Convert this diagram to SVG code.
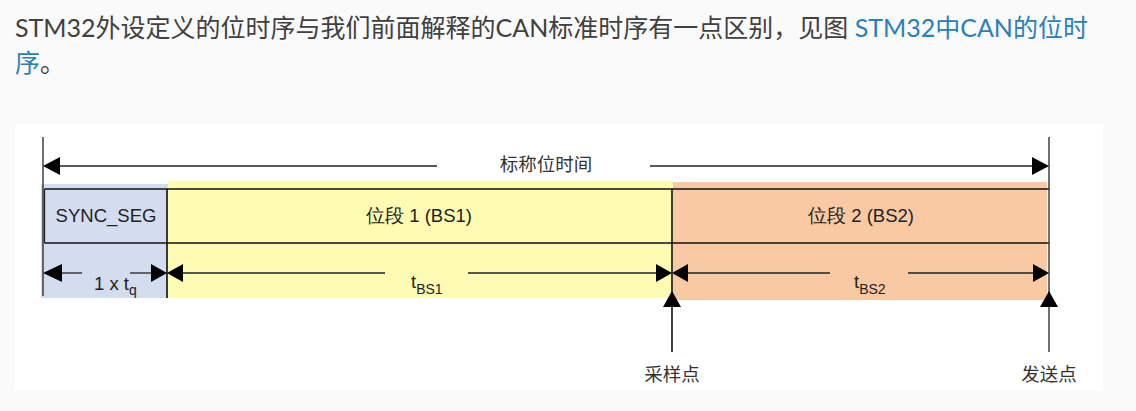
<svg xmlns="http://www.w3.org/2000/svg" width="1136" height="411" viewBox="0 0 1136 411">
<defs>
<style>
.para{font-family:Lato,"Noto Sans CJK SC",sans-serif;font-size:25px;fill:#404040}
.link{fill:#2980b9}
.lbl{font-family:"Liberation Sans",Arial,sans-serif;font-size:18.5px;fill:#222}
.cjk{font-family:"Liberation Serif","Noto Sans CJK SC",serif;font-size:18.5px;fill:#333}
.sub{font-size:14px}
.ln{stroke:#111;stroke-width:1.6;fill:none}
.thin{stroke:#222;stroke-width:1.3;fill:none}
.ah{fill:#000}
</style>
</defs>
<rect x="0" y="0" width="1136" height="411" fill="#fafafa"/>
<text class="para" x="15" y="37">STM32外设定义的位时序与我们前面解释的CAN标准时序有一点区别，见图 <tspan class="link">STM32中CAN的位时</tspan></text>
<text class="para" x="15" y="72"><tspan class="link">序</tspan>。</text>
<rect x="15" y="124" width="1088" height="267" fill="#ffffff"/>
<g id="sync_seg">
<rect x="41" y="184" width="127" height="114" fill="#d3ddef"/>
<text class="lbl" x="106" y="222" text-anchor="middle">SYNC_SEG</text>
</g>
<g id="bs1">
<rect x="168" y="181" width="505" height="117" fill="#fdfcb2"/>
<text class="lbl" x="419" y="222" text-anchor="middle">位段 1 (BS1)</text>
</g>
<g id="bs2">
<rect x="673" y="182" width="374" height="118" fill="#f8c9a3"/>
<text class="lbl" x="861" y="222" text-anchor="middle">位段 2 (BS2)</text>
</g>
<g id="frame">
<line class="ln" x1="44.5" y1="189" x2="1049" y2="189"/>
<line class="ln" x1="44.5" y1="243" x2="1049" y2="243"/>
<line class="thin" x1="44.5" y1="189" x2="44.5" y2="243"/>
<line class="ln" x1="167" y1="189" x2="167" y2="298"/>
<line class="ln" x1="672" y1="189" x2="672" y2="352"/>
<line class="thin" x1="43" y1="137" x2="43" y2="296"/>
<line class="thin" x1="1049" y1="137" x2="1049" y2="352"/>
</g>
<g id="connectors">
<line class="thin" x1="58" y1="166" x2="437" y2="166"/>
<line class="thin" x1="650" y1="166" x2="1034" y2="166"/>
<polygon class="ah" points="43,166 60,157 60,175"/>
<polygon class="ah" points="1049,166 1032,157 1032,175"/>
<line class="thin" x1="60" y1="273" x2="82" y2="273"/>
<line class="thin" x1="130" y1="273" x2="152" y2="273"/>
<polygon class="ah" points="43,273 62,264 62,282"/>
<polygon class="ah" points="167,273 151,264 151,282"/>
<line class="thin" x1="183" y1="273" x2="385" y2="273"/>
<line class="thin" x1="468" y1="273" x2="657" y2="273"/>
<polygon class="ah" points="167,273 183,264 183,282"/>
<polygon class="ah" points="672,273 656,264 656,282"/>
<line class="thin" x1="688" y1="273" x2="830" y2="273"/>
<line class="thin" x1="908" y1="273" x2="1034" y2="273"/>
<polygon class="ah" points="672,273 688,264 688,282"/>
<polygon class="ah" points="1049,273 1033,264 1033,282"/>
<polygon class="ah" points="672,291 663,307 681,307"/>
<polygon class="ah" points="1049,291 1040,307 1058,307"/>
</g>
<g id="labels">
<text class="cjk" x="546" y="171" text-anchor="middle">标称位时间</text>
<text class="lbl" x="94" y="290">1 x t<tspan class="sub" dy="5">q</tspan></text>
<text class="lbl" x="411" y="288">t<tspan class="sub" dy="6">BS1</tspan></text>
<text class="lbl" x="854" y="288">t<tspan class="sub" dy="6">BS2</tspan></text>
<text class="cjk" x="672" y="381" text-anchor="middle">采样点</text>
<text class="cjk" x="1049" y="381" text-anchor="middle">发送点</text>
</g>
</svg>
